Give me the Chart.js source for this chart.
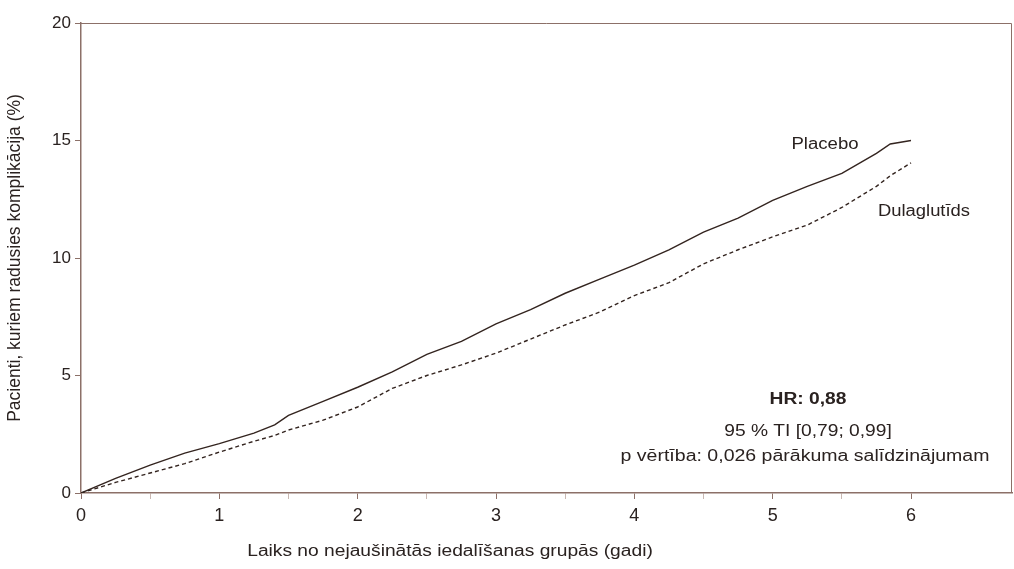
<!DOCTYPE html>
<html>
<head>
<meta charset="utf-8">
<script src="https://cdn.jsdelivr.net/npm/chart.js@4.4.1/dist/chart.umd.min.js"></script>
<style>
  html, body { margin: 0; padding: 0; background: #fff; }
  #wrap { width: 1014px; height: 569px; }
</style>
</head>
<body>
<div id="wrap"><canvas id="kmChart" width="1014" height="569"></canvas></div>
<script>
// Kaplan-Meier style cumulative incidence
const years = [0, 0.25, 0.5, 0.75, 1, 1.25, 1.4, 1.5, 1.75, 2, 2.25, 2.5, 2.75, 3, 3.25, 3.5, 3.75, 4, 4.25, 4.5, 4.75, 5, 5.25, 5.5, 5.75, 5.85, 6];
const placebo = [0, 0.62, 1.19, 1.7, 2.1, 2.55, 2.9, 3.3, 3.9, 4.5, 5.15, 5.9, 6.45, 7.2, 7.8, 8.5, 9.1, 9.7, 10.35, 11.1, 11.7, 12.45, 13.05, 13.6, 14.45, 14.85, 15.0];
const dulaglutide = [0, 0.45, 0.85, 1.25, 1.74, 2.2, 2.45, 2.68, 3.1, 3.66, 4.45, 5.0, 5.45, 5.95, 6.55, 7.15, 7.7, 8.4, 8.95, 9.75, 10.35, 10.9, 11.4, 12.15, 13.05, 13.5, 14.05];
const xTicks = [0, 0.5, 1, 1.5, 2, 2.5, 3, 3.5, 4, 4.5, 5, 5.5, 6];
const yTicks = [0, 5, 10, 15, 20];

const axisColor = '#8c7068';
const lineColor = '#33241f';
const textColor = '#2a2220';
const fontFamily = '"Liberation Sans", Arial, sans-serif';

function toPoints(xs, ys) {
    return xs.map((x, i) => ({ x: x, y: ys[i] }));
}

// the source figure's text is a bit wider than normal, so stretch it sideways
function stretchedText(ctx, text, cx, cy, sx) {
    ctx.save();
    ctx.translate(cx, cy);
    ctx.scale(sx, 1);
    ctx.fillText(text, 0, 0);
    ctx.restore();
}

// frame + free text labels
const annotations = {
    id: 'annotations',
    afterDraw(chart) {
        const ctx = chart.ctx;
        const a = chart.chartArea;
        ctx.save();
        ctx.strokeStyle = axisColor;
        ctx.lineWidth = 1;
        ctx.beginPath();
        ctx.moveTo(a.left, a.top + 0.5);
        ctx.lineTo(a.right - 0.5, a.top + 0.5);
        ctx.lineTo(a.right - 0.5, a.bottom);
        ctx.stroke();

        ctx.fillStyle = textColor;
        ctx.textAlign = 'center';
        ctx.textBaseline = 'middle';
        ctx.font = '16px ' + fontFamily;
        stretchedText(ctx, 'Placebo', 825, 145, 1.16);
        stretchedText(ctx, 'Dulaglutīds', 924, 212, 1.15);
        ctx.font = 'bold 16px ' + fontFamily;
        stretchedText(ctx, 'HR: 0,88', 808, 400, 1.2);
        ctx.font = '16px ' + fontFamily;
        stretchedText(ctx, '95 % TI [0,79; 0,99]', 808, 432, 1.2);
        stretchedText(ctx, 'p vērtība: 0,026 pārākuma salīdzinājumam', 805, 457, 1.22);
        stretchedText(ctx, 'Laiks no nejaušinātās iedalīšanas grupās (gadi)', 450, 552, 1.2);
        ctx.restore();
    }
};

new Chart(document.getElementById('kmChart'), {
    type: 'line',
    data: {
        datasets: [{
            label: 'Placebo',
            data: toPoints(years, placebo),
            borderColor: lineColor,
            borderWidth: 1.4,
            pointRadius: 0,
            tension: 0
        }, {
            label: 'Dulaglutīds',
            data: toPoints(years, dulaglutide),
            borderColor: lineColor,
            borderWidth: 1.4,
            borderDash: [4, 3],
            pointRadius: 0,
            tension: 0
        }]
    },
    plugins: [annotations],
    options: {
        responsive: false,
        animation: false,
        layout: { padding: { top: 23, right: 2, bottom: 0, left: 0 } },
        plugins: {
            legend: { display: false },
            tooltip: { enabled: false }
        },
        scales: {
            x: {
                type: 'linear',
                min: 0,
                max: 6.73,
                afterBuildTicks: (scale) => { scale.ticks = xTicks.map(v => ({ value: v })); },
                afterFit: (scale) => { scale.height = 76; },
                ticks: {
                    color: textColor,
                    font: { family: fontFamily, size: 18 },
                    padding: 6,
                    maxRotation: 0,
                    callback: (v) => Number.isInteger(v) ? String(v) : ''
                },
                grid: {
                    drawOnChartArea: false,
                    drawTicks: true,
                    tickLength: 6,
                    tickColor: (c) => Number.isInteger(c.tick && c.tick.value) ? axisColor : '#c9b8b2'
                },
                border: { display: true, color: axisColor, width: 1.5 }
            },
            y: {
                min: 0,
                max: 20,
                afterBuildTicks: (scale) => { scale.ticks = yTicks.map(v => ({ value: v })); },
                afterFit: (scale) => { scale.width = 81; },
                title: {
                    display: true,
                    text: 'Pacienti, kuriem radusies komplikācija (%)',
                    color: textColor,
                    font: { family: fontFamily, size: 17.5 },
                    padding: { top: 5, bottom: 0 }
                },
                ticks: {
                    color: textColor,
                    font: { family: fontFamily, size: 17 },
                    padding: 4
                },
                grid: {
                    drawOnChartArea: false,
                    drawTicks: true,
                    tickLength: 6,
                    tickColor: axisColor
                },
                border: { display: true, color: axisColor, width: 1.5 }
            }
        }
    }
});
</script>
</body>
</html>
